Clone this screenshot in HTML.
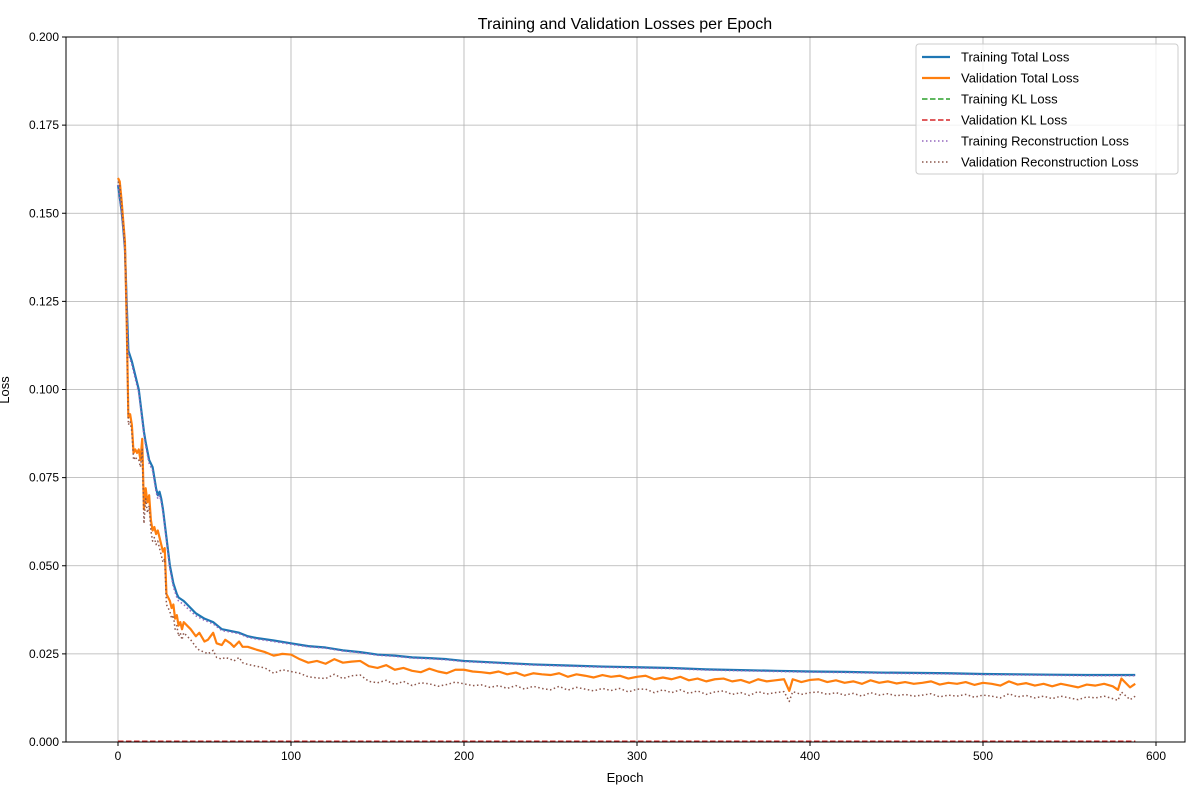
<!DOCTYPE html>
<html><head><meta charset="utf-8"><style>
body{margin:0;background:#fff;}
svg{font-family:"Liberation Sans","DejaVu Sans",sans-serif;}
</style></head><body>
<svg id="chart" width="1200" height="800">
<rect width="1200" height="800" fill="#fff"/>
<g id="grid"></g>
<g id="series"></g>
<rect x="66" y="37" width="1119" height="705" fill="none" stroke="#000" stroke-width="1"/>
<g id="ticks"></g>
<text x="625" y="29" text-anchor="middle" font-size="16">Training and Validation Losses per Epoch</text>
<text x="625" y="782" text-anchor="middle" font-size="13">Epoch</text>
<text x="0" y="0" transform="translate(9,390) rotate(-90)" text-anchor="middle" font-size="13">Loss</text>
<g id="legend"></g>
</svg>
<script>
const xTicks=[0,100,200,300,400,500,600];
const yTicks=[0,0.025,0.05,0.075,0.1,0.125,0.15,0.175,0.2];
const trainEpochs=[0,2,3,4,5,6,8,10,12,13,15,16,18,20,21,22,23,24,25,26,27,28,29,30,32,34,35,38,40,45,50,55,60,65,70,75,80,90,100,110,120,130,140,150,160,170,180,190,200,220,240,260,280,300,320,340,360,380,400,420,440,460,480,500,520,540,560,575,588];
const trainTotal=[0.158,0.151,0.146,0.140,0.125,0.111,0.108,0.104,0.100,0.096,0.088,0.085,0.080,0.078,0.075,0.072,0.070,0.071,0.069,0.066,0.062,0.058,0.054,0.050,0.045,0.042,0.041,0.040,0.039,0.0365,0.035,0.034,0.032,0.0315,0.031,0.030,0.0295,0.0288,0.028,0.0272,0.0268,0.026,0.0255,0.0248,0.0245,0.024,0.0238,0.0235,0.023,0.0225,0.022,0.0217,0.0214,0.0212,0.021,0.0206,0.0204,0.0202,0.020,0.0199,0.0197,0.0196,0.0195,0.0193,0.0192,0.0191,0.019,0.019,0.019];
const trainRecon=[0.158,0.150,0.145,0.139,0.124,0.110,0.107,0.103,0.099,0.095,0.087,0.084,0.079,0.077,0.074,0.071,0.069,0.070,0.068,0.065,0.061,0.057,0.053,0.049,0.044,0.041,0.040,0.039,0.038,0.0358,0.0345,0.0335,0.0316,0.0312,0.0307,0.0297,0.0292,0.0285,0.0277,0.027,0.0266,0.0258,0.0253,0.0246,0.0243,0.0238,0.0236,0.0233,0.0228,0.0223,0.0218,0.0215,0.0212,0.021,0.0208,0.0204,0.0202,0.02,0.0198,0.0197,0.0195,0.0194,0.0193,0.0191,0.019,0.0189,0.0188,0.0188,0.0188];
const trainKL=[0.0002,0.0002,0.0002,0.0002,0.0002,0.0002,0.0002,0.0002,0.0002,0.0002,0.0002,0.0002,0.0002,0.0002,0.0002,0.0002,0.0002,0.0002,0.0002,0.0002,0.0002,0.0002,0.0002,0.0002,0.0002,0.0002,0.0002,0.0002,0.0002,0.0002,0.0002,0.0002,0.0002,0.0002,0.0002,0.0002,0.0002,0.0002,0.0002,0.0002,0.0002,0.0002,0.0002,0.0002,0.0002,0.0002,0.0002,0.0002,0.0002,0.0002,0.0002,0.0002,0.0002,0.0002,0.0002,0.0002,0.0002,0.0002,0.0002,0.0002,0.0002,0.0002,0.0002,0.0002,0.0002,0.0002,0.0002,0.0002,0.0002];
const valEpochs=[0,1,2,3,4,5,6,7,8,9,10,11,12,13,14,15,16,17,18,19,20,21,22,23,24,25,26,27,28,29,30,31,32,33,34,35,36,37,38,40,42,45,47,50,52,55,57,60,62,65,67,70,72,75,80,85,90,95,100,105,110,115,120,125,130,135,140,145,150,155,160,165,170,175,180,185,190,195,200,205,210,215,220,225,230,235,240,245,250,255,260,265,270,275,280,285,290,295,300,305,310,315,320,325,330,335,340,345,350,355,360,365,370,375,380,385,388,390,395,400,405,410,415,420,425,430,435,440,445,450,455,460,465,470,475,480,485,490,495,500,505,510,515,520,525,530,535,540,545,550,555,560,565,570,575,578,580,585,588];
const valTotal=[0.160,0.159,0.154,0.148,0.142,0.120,0.092,0.093,0.090,0.082,0.083,0.082,0.083,0.080,0.086,0.066,0.072,0.068,0.070,0.063,0.060,0.061,0.059,0.060,0.058,0.056,0.054,0.055,0.042,0.041,0.040,0.038,0.039,0.035,0.036,0.033,0.034,0.032,0.034,0.033,0.032,0.030,0.031,0.0285,0.029,0.031,0.028,0.0275,0.029,0.028,0.027,0.0285,0.027,0.027,0.0262,0.0255,0.0245,0.025,0.0248,0.0235,0.0225,0.023,0.0222,0.0235,0.0225,0.0228,0.023,0.0215,0.021,0.0218,0.0205,0.021,0.0202,0.0198,0.0208,0.020,0.0195,0.0205,0.0205,0.020,0.0198,0.0195,0.020,0.0192,0.0197,0.0188,0.0195,0.0192,0.019,0.0195,0.0185,0.0192,0.0188,0.0183,0.019,0.0185,0.0188,0.018,0.0185,0.0188,0.0178,0.0183,0.0178,0.0185,0.0175,0.018,0.0172,0.0178,0.018,0.0172,0.0176,0.0168,0.0178,0.0172,0.0175,0.0178,0.0145,0.0178,0.017,0.0176,0.0178,0.017,0.0175,0.0168,0.0172,0.0165,0.0175,0.0168,0.0172,0.0166,0.017,0.0165,0.0168,0.0172,0.0163,0.0168,0.0165,0.017,0.0162,0.0168,0.0165,0.016,0.0172,0.0163,0.0167,0.016,0.0165,0.0158,0.0165,0.016,0.0155,0.0163,0.016,0.0165,0.0158,0.0148,0.018,0.0155,0.0165];
const valRecon=[0.159,0.158,0.153,0.147,0.141,0.118,0.090,0.091,0.088,0.080,0.081,0.080,0.080,0.078,0.083,0.062,0.069,0.065,0.067,0.060,0.057,0.058,0.056,0.057,0.055,0.053,0.051,0.052,0.039,0.038,0.037,0.035,0.036,0.032,0.033,0.030,0.031,0.029,0.031,0.030,0.029,0.027,0.026,0.0255,0.025,0.026,0.024,0.0235,0.024,0.0235,0.023,0.024,0.0225,0.022,0.0215,0.021,0.0195,0.0205,0.020,0.0195,0.0185,0.0182,0.018,0.0192,0.018,0.0188,0.019,0.0172,0.0168,0.0175,0.0163,0.0172,0.016,0.0168,0.0165,0.0158,0.0163,0.017,0.0165,0.016,0.0162,0.0155,0.016,0.0152,0.016,0.015,0.0158,0.0152,0.0148,0.0158,0.0147,0.0155,0.015,0.0145,0.0152,0.0146,0.0152,0.0142,0.015,0.015,0.014,0.0148,0.014,0.0148,0.0138,0.0145,0.0135,0.0142,0.0145,0.0135,0.014,0.0132,0.0143,0.0136,0.014,0.0143,0.0115,0.0143,0.0135,0.014,0.0142,0.0135,0.014,0.0133,0.0138,0.013,0.014,0.0133,0.0137,0.0131,0.0135,0.013,0.0133,0.0137,0.0128,0.0133,0.013,0.0135,0.0127,0.0133,0.013,0.0125,0.0137,0.0128,0.0132,0.0125,0.013,0.0123,0.013,0.0125,0.012,0.0128,0.0125,0.013,0.0123,0.0118,0.0142,0.012,0.013];
const valKL=valEpochs.map(()=>0.0002);

const NS='http://www.w3.org/2000/svg';
const X0=66,X1=1185,Y0=37,Y1=742;
function sx(v){return 118+v*(1156-118)/600;}
function sy(v){return Y1-v/0.2*(Y1-Y0);}
function mk(tag,attrs,parent){const e=document.createElementNS(NS,tag);for(const k in attrs)e.setAttribute(k,attrs[k]);parent.appendChild(e);return e;}
const grid=document.getElementById('grid'),ticks=document.getElementById('ticks'),series=document.getElementById('series'),legend=document.getElementById('legend');
xTicks.forEach(t=>{
  const g=mk('line',{x1:sx(t),x2:sx(t),y1:Y0,y2:Y1,stroke:'#b0b0b0','stroke-width':0.8},grid);
  
  
  mk('line',{x1:sx(t),x2:sx(t),y1:Y1,y2:Y1+4,stroke:'#000'},ticks);
  const tx=mk('text',{x:sx(t),y:Y1+18,'text-anchor':'middle','font-size':12},ticks);
  tx.textContent=t;
  
  
});
yTicks.forEach(t=>{
  const g=mk('line',{x1:X0,x2:X1,y1:sy(t),y2:sy(t),stroke:'#b0b0b0','stroke-width':0.8},grid);
  
  
  mk('line',{x1:X0-4,x2:X0,y1:sy(t),y2:sy(t),stroke:'#000'},ticks);
  const tx=mk('text',{x:X0-7,y:sy(t)+4,'text-anchor':'end','font-size':12},ticks);
  tx.textContent=t.toFixed(3);
  
  
});
function path(ep,vals){return vals.map((v,i)=>(i?'L':'M')+sx(ep[i]).toFixed(2)+','+sy(v).toFixed(2)).join(' ');}
const defs=[
 {ep:trainEpochs,v:trainKL,c:'#2ca02c',w:1.5,d:'5.5,2.5',n:'Training KL Loss',id:'training-kl-line'},
 {ep:valEpochs,v:valKL,c:'#d62728',w:1.5,d:'5.5,2.5',n:'Validation KL Loss',id:'validation-kl-line'},
 {ep:trainEpochs,v:trainTotal,c:'#1f77b4',w:2.2,d:'',n:'Training Total Loss',id:'training-total-line'},
 {ep:valEpochs,v:valTotal,c:'#ff7f0e',w:2.2,d:'',n:'Validation Total Loss',id:'validation-total-line'},
 {ep:trainEpochs,v:trainRecon,c:'#9467bd',w:1.5,d:'1.5,2.5',n:'Training Reconstruction Loss',id:'training-recon-line'},
 {ep:valEpochs,v:valRecon,c:'#8c564b',w:1.5,d:'1.5,2.5',n:'Validation Reconstruction Loss',id:'validation-recon-line'}
];
defs.forEach(s=>{
  const p=mk('path',{d:path(s.ep,s.v),fill:'none',stroke:s.c,'stroke-width':s.w,'stroke-dasharray':s.d,'stroke-linejoin':'round'},series);
  
  
});
mk('rect',{x:916,y:44,width:262,height:130,rx:3,fill:'#fff','fill-opacity':0.8,stroke:'#ccc'},legend);
const order=[2,3,0,1,4,5];
order.forEach((k,i)=>{
  const s=defs[k];const y=57+i*21;
  mk('line',{x1:922,x2:950,y1:y,y2:y,stroke:s.c,'stroke-width':s.w,'stroke-dasharray':s.d},legend);
  const t=mk('text',{x:961,y:y+4.5,'font-size':13},legend);
  t.textContent=s.n;
  
  
});
</script>
</body></html>
